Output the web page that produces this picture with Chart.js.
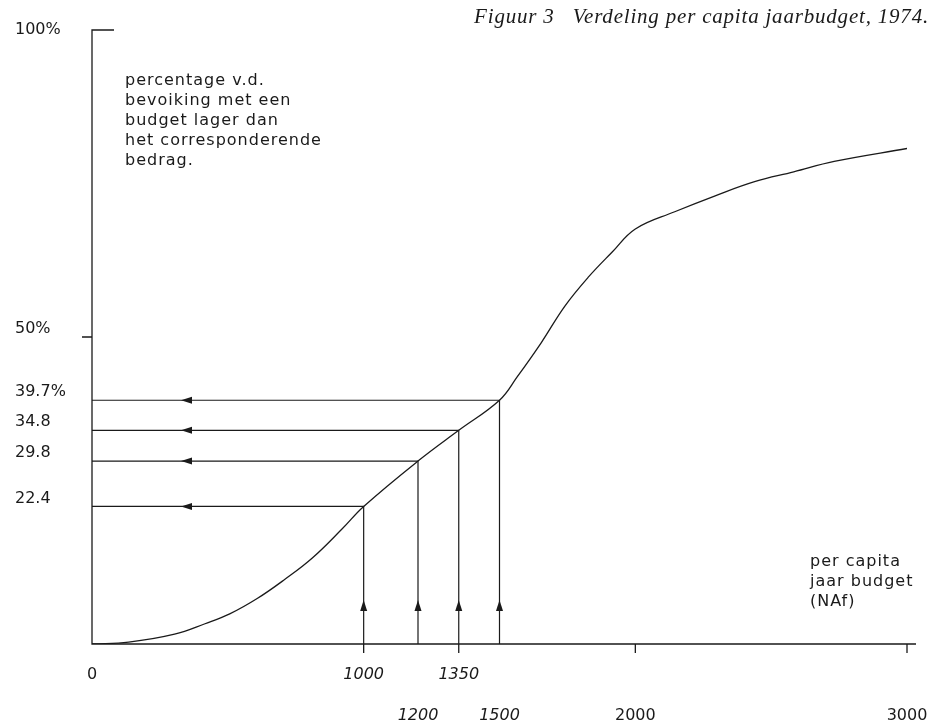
<!DOCTYPE html>
<html>
<head>
<meta charset="utf-8">
<script src="https://cdn.jsdelivr.net/npm/chart.js@4.4.1/dist/chart.umd.min.js"></script>
<style>
  html, body { margin: 0; padding: 0; background: #fff; }
  #wrap { width: 932px; height: 723px; }
</style>
</head>
<body>
<div id="wrap"><canvas id="chart" width="932" height="723"></canvas></div>
<script>
const budget = [0, 135, 304, 416, 507, 608, 709, 811, 922, 1000, 1200, 1350, 1500,
  1565, 1654, 1740, 1826, 1914, 2000, 2145, 2294, 2439, 2583, 2732, 3000];
const percentage = [0, 0.3, 1.6, 3.3, 4.9, 7.4, 10.5, 14.0, 18.8, 22.4, 29.8, 34.8, 39.7,
  43.5, 49.1, 55.0, 59.7, 63.8, 67.6, 70.4, 73.0, 75.3, 76.9, 78.6, 80.7];

const markBudget = [1000, 1200, 1350, 1500];
const markPct = [22.4, 29.8, 34.8, 39.7];

const xTicks = [0, 1000, 1200, 1350, 1500, 2000, 3000];
const xLowerRow = [1200, 1500, 2000, 3000];
const xItalic = [1000, 1200, 1350, 1500];
const yTicks = [22.4, 29.8, 34.8, 39.7, 50, 100];
const yLabels = ["22.4", "29.8", "34.8", "39.7%", "50%", "100%"];

const titleText = "Figuur 3   Verdeling per capita jaarbudget, 1974.";
const yNote = ["percentage v.d.", "bevoiking met een", "budget lager dan", "het corresponderende", "bedrag."];
const xNote = ["per capita", "jaar budget", "(NAf)"];

const ink = "#1a1a1a";
const sans = "'DejaVu Sans', sans-serif";

const curve = budget.map((b, i) => ({ x: b, y: percentage[i] }));
const guides = markBudget.map((b, i) => ({
  data: [{ x: 0, y: markPct[i] }, { x: b, y: markPct[i] }, { x: b, y: 0 }],
  borderColor: ink, borderWidth: 1.2, pointRadius: 0, tension: 0
}));

function arrowHead(ctx, x, y, dir) {
  // dir: "up" of "left"
  ctx.beginPath();
  if (dir === "up") {
    ctx.moveTo(x, y - 6); ctx.lineTo(x - 3.5, y + 5); ctx.lineTo(x + 3.5, y + 5);
  } else {
    ctx.moveTo(x - 6, y); ctx.lineTo(x + 5, y - 3.5); ctx.lineTo(x + 5, y + 3.5);
  }
  ctx.closePath();
  ctx.fill();
}

const decor = {
  id: "decor",
  afterDatasetsDraw(chart) {
    const { ctx, chartArea: a, scales: { x, y } } = chart;
    ctx.save();
    ctx.strokeStyle = ink;
    ctx.fillStyle = ink;
    ctx.lineWidth = 1.3;

    // assen
    ctx.beginPath();
    ctx.moveTo(a.left + 22, a.top);
    ctx.lineTo(a.left, a.top);
    ctx.lineTo(a.left, a.bottom);
    ctx.lineTo(a.right + 9, a.bottom);
    ctx.stroke();

    // streepjes
    ctx.beginPath();
    const y50 = y.getPixelForValue(50);
    ctx.moveTo(a.left - 10, y50); ctx.lineTo(a.left, y50);
    [1000, 1350, 2000, 3000].forEach(v => {
      const px = x.getPixelForValue(v);
      ctx.moveTo(px, a.bottom); ctx.lineTo(px, a.bottom + 9);
    });
    ctx.stroke();

    // pijlpunten
    markBudget.forEach((b, i) => {
      arrowHead(ctx, x.getPixelForValue(b), a.bottom - 38, "up");
      arrowHead(ctx, a.left + 95, y.getPixelForValue(markPct[i]), "left");
    });

    // teksten
    ctx.textBaseline = "middle";
    ctx.font = "16px " + sans;
    ctx.letterSpacing = "1px";
    ctx.textAlign = "left";
    yNote.forEach((t, i) => ctx.fillText(t, a.left + 33, 81 + i * 20));
    xNote.forEach((t, i) => ctx.fillText(t, 810, 562 + i * 20));

    ctx.font = "italic 21px 'Liberation Serif', serif";
    ctx.letterSpacing = "0.8px";
    ctx.textAlign = "right";
    ctx.fillText(titleText, 929, 17);
    ctx.restore();
  }
};

new Chart(document.getElementById("chart"), {
  type: "line",
  data: {
    datasets: [
      { data: curve, borderColor: ink, borderWidth: 1.3, pointRadius: 0, tension: 0.4 },
      ...guides
    ]
  },
  options: {
    responsive: false,
    animation: false,
    layout: { padding: { left: 15, right: 25, top: 30, bottom: 0 } },
    plugins: { legend: { display: false }, tooltip: { enabled: false } },
    scales: {
      x: {
        type: "linear", min: 0, max: 3000,
        grid: { display: false, drawTicks: false },
        border: { display: false },
        afterBuildTicks: s => { s.ticks = xTicks.map(v => ({ value: v })); },
        afterFit: s => { s.height = 79; s.paddingLeft = 0; s.paddingRight = 0; },
        ticks: {
          autoSkip: false, maxRotation: 0, padding: 10, color: ink,
          font: c => ({
            family: sans, size: 16, lineHeight: "41px",
            style: c.tick && xItalic.includes(c.tick.value) ? "italic" : "normal"
          }),
          callback: v => xLowerRow.includes(v) ? ["", String(v)] : String(v)
        }
      },
      y: {
        min: 0, max: 100,
        grid: { display: false, drawTicks: false },
        border: { display: false },
        afterBuildTicks: s => { s.ticks = yTicks.map(v => ({ value: v })); },
        afterFit: s => { s.width = 77; },
        ticks: {
          autoSkip: false, crossAlign: "far", color: ink,
          font: { family: sans, size: 16, lineHeight: "16px" },
          callback: v => {
            const t = yLabels[yTicks.indexOf(v)];
            return v === 100 ? t : [t, ""];
          }
        }
      }
    }
  },
  plugins: [decor]
});
</script>
</body>
</html>
